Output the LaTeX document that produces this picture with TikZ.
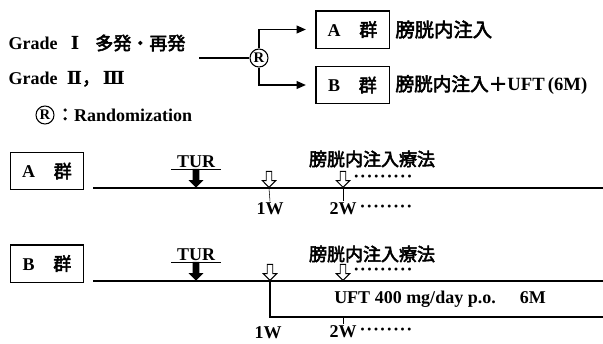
\documentclass[tikz,border=0pt]{standalone}
\usepackage{fontspec}
\setmainfont{Liberation Serif}
\newfontfamily\jpfont{Noto Sans CJK JP}[FakeBold=3]
\newfontfamily\romfont{DejaVu Serif}
\newcommand\jp{\jpfont\mdseries}
\usetikzlibrary{positioning,arrows.meta,shapes.arrows}
\newcommand\lblfont{\fontsize{13.5pt}{16pt}\selectfont\bfseries}
\newcommand\dotrun[1]{\foreach \i in {1,...,#1}{\textperiodcentered\kern0.5pt}}
\tikzset{
  lbl/.style={
    font=\lblfont,
    inner sep=1pt
  },
  grpBox/.style={
    draw,
    line width=1pt,
    font=\lblfont,
    minimum width=55pt,
    minimum height=28pt,
    inner sep=0pt
  },
  randNode/.style={
    circle,
    draw,
    line width=0.8pt,
    inner sep=0pt,
    minimum size=13.5pt,
    font=\fontsize{11pt}{12pt}\selectfont\bfseries
  },
  flowLine/.style={
    line width=0.9pt
  },
  flowArrow/.style={
    line width=0.9pt,
    -{Triangle[length=7pt,width=6pt]}
  },
  timeLine/.style={
    line width=0.9pt
  },
  turArrow/.style={
    single arrow,
    fill=black,
    rotate=-90,
    anchor=tip,
    inner sep=0pt,
    inner ysep=2.4pt,
    minimum height=14pt,
    minimum width=11pt,
    single arrow head extend=3pt
  },
  injArrow/.style={
    single arrow,
    draw,
    fill=white,
    line width=0.7pt,
    rotate=-90,
    anchor=tip,
    inner sep=0pt,
    inner ysep=1.7pt,
    minimum height=12pt,
    minimum width=10pt,
    single arrow head extend=3pt
  },
  dotsLbl/.style={
    font=\lblfont,
    inner sep=0pt
  }
}
\begin{document}
\begin{tikzpicture}[x=0.75pt, y=-0.75pt]
    \useasboundingbox (0,0) rectangle (603,343);

    % Grades and randomization
    \node (grade1) [lbl, anchor=west] at (7,43) {Grade\hspace{10pt}{\romfont Ⅰ}\hspace{12pt}{\jp 多発・再発}};
    \node (grade2) [lbl, anchor=west] at (7,79) {Grade\hspace{7pt}{\romfont Ⅱ}{\jp ，}\hspace{2pt}{\romfont Ⅲ}};
    \node (randLeg) [randNode] at (45,115) {R};
    \node (randTxt) [lbl, right=0pt of randLeg] {{\jp ：}Randomization};

    \coordinate (joinIn) at (199,58);
    \node (rand) [randNode] at (259,58) {R};

    \node (boxA) [grpBox] at (352.5,29.5) {A\hspace{14pt}{\jp 群}};
    \node (boxB) [grpBox] at (352.5,85) {B\hspace{14pt}{\jp 群}};
    \node (txtA) [lbl, right=3pt of boxA, font=\fontsize{14.5pt}{17pt}\selectfont\bfseries] {{\jp 膀胱内注入}};
    \node (txtB) [lbl, right=3pt of boxB, font=\fontsize{14pt}{17pt}\selectfont\bfseries] {{\jp 膀胱内注入＋}UFT\,(6M)};

    \draw [flowLine] (joinIn) -- (rand);
    \draw [flowArrow, shorten >=7pt] (rand) |- (boxA);
    \draw [flowArrow, shorten >=7pt] (rand) |- (boxB);

    % A group timeline
    \node (grpA) [grpBox] at (47,171) {A\hspace{14pt}{\jp 群}};
    \coordinate (tlA0) at (93,188);
    \coordinate (tlA1) at (603,188);
    \draw [timeLine] (tlA0) -- (tlA1);

    \node (turA) [lbl, anchor=south, inner xsep=4pt] at (196,169) {TUR};
    \draw (turA.south west) -- (turA.south east);
    \node (turArrA) [turArrow] at (turA.south |- tlA0) {};

    \node (therA) [lbl] at (372,159) {{\jp 膀胱内注入療法}};
    \node (inj1A) [injArrow] at (269,188) {};
    \node (inj2A) [injArrow] at (343,188) {};
    \node (dots1A) [dotsLbl, anchor=west] at (353,179) {\dotrun{9}};

    \node (w1A) [lbl] at (270,209) {1W};
    \node (w2A) [lbl] at (343,209) {2W};
    \node (dots2A) [dotsLbl, right=1pt of w2A] {\dotrun{8}};
    \draw (inj1A.tip) -- (w1A.north);
    \draw (inj2A.tip) -- (w2A.north);

    % B group timeline
    \node (grpB) [grpBox] at (47,263.5) {B\hspace{14pt}{\jp 群}};
    \coordinate (tlB0) at (93,281);
    \coordinate (tlB1) at (603,281);
    \draw [timeLine] (tlB0) -- (tlB1);

    \node (turB) [lbl, anchor=south, inner xsep=4pt] at (196,262) {TUR};
    \draw (turB.south west) -- (turB.south east);
    \node (turArrB) [turArrow] at (turB.south |- tlB0) {};

    \node (therB) [lbl] at (372,254) {{\jp 膀胱内注入療法}};
    \node (inj1B) [injArrow] at (270,281) {};
    \node (inj2B) [injArrow] at (343,281) {};
    \node (dots1B) [dotsLbl, anchor=west] at (353,272) {\dotrun{9}};

    \coordinate (uftR) at (603,317);
    \draw [timeLine] (inj1B.tip) |- (uftR);
    \node (uft) [lbl] at (440,299) {UFT 400 mg/day p.o.\hspace{18pt}6M};

    \node (w1B) [lbl] at (268,333) {1W};
    \node (w2B) [lbl] at (343,332) {2W};
    \node (dots2B) [dotsLbl, right=1pt of w2B] {\dotrun{8}};
    \draw (inj2B.tip |- uftR) -- (w2B.north);
\end{tikzpicture}
\end{document}
